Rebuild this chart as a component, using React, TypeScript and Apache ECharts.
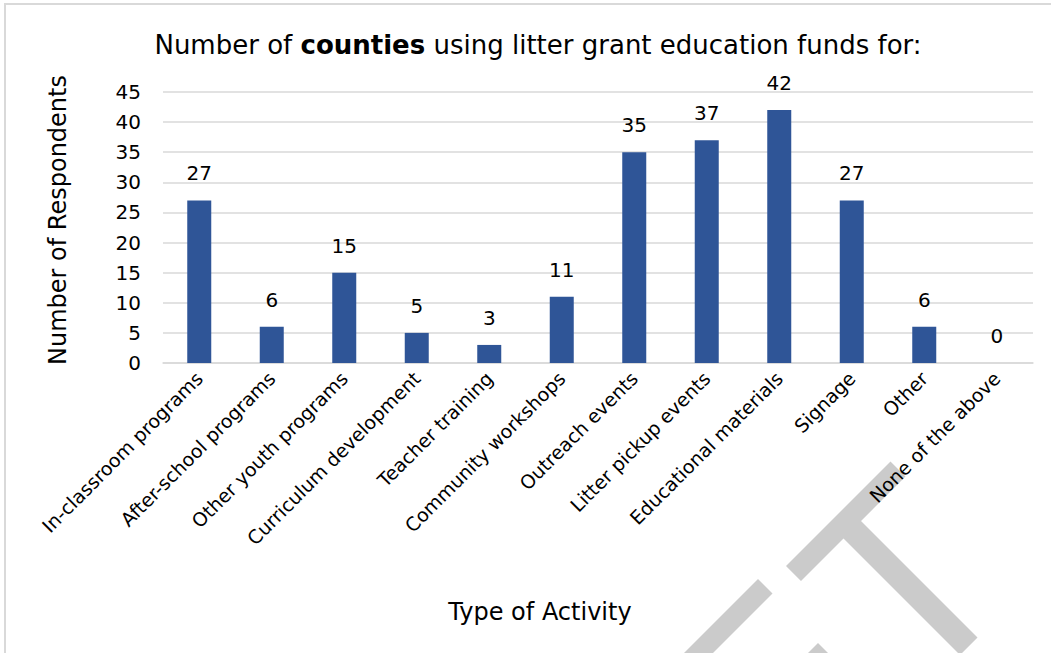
import React, { useEffect, useRef } from "react";
import * as echarts from "echarts";

const categories = [
  "In-classroom programs",
  "After-school programs",
  "Other youth programs",
  "Curriculum development",
  "Teacher training",
  "Community workshops",
  "Outreach events",
  "Litter pickup events",
  "Educational materials",
  "Signage",
  "Other",
  "None of the above",
];
const counts = [27, 6, 15, 5, 3, 11, 35, 37, 42, 27, 6, 0];
const yTicks = { min: 0, max: 45, interval: 5 };
const yAxisTitle = "Number of Respondents";
const xAxisTitle = "Type of Activity";

const FONT = "'DejaVu Sans', sans-serif";

export default function App() {
  const ref = useRef<HTMLDivElement>(null);
  useEffect(() => {
    if (!ref.current) return;
    const chart = echarts.init(ref.current, undefined, { renderer: "svg" });
    const wm = "#cbcbcb";
    chart.setOption({
      animation: false,
      backgroundColor: "#ffffff",
      title: {
        text: "Number of {b|counties} using litter grant education funds for:",
        left: 533,
        top: 27,
        textAlign: "center",
        textStyle: {
          fontFamily: FONT,
          fontSize: 26,
          fontWeight: "normal",
          color: "#000",
          rich: {
            b: { fontFamily: FONT, fontSize: 26, fontWeight: "bold", color: "#000" },
          },
        },
      },
      grid: { left: 163, right: 18, top: 92, bottom: 290, containLabel: false },
      xAxis: {
        type: "category",
        data: categories,
        axisLine: { show: true, lineStyle: { color: "#d9d9d9", width: 1.5 } },
        axisTick: { show: false },
        axisLabel: {
          interval: 0,
          rotate: 45,
          margin: 12,
          fontFamily: FONT,
          fontSize: 19,
          color: "#000",
        },
      },
      yAxis: {
        type: "value",
        min: yTicks.min,
        max: yTicks.max,
        interval: yTicks.interval,
        axisLine: { show: false },
        axisTick: { show: false },
        axisLabel: { margin: 22, fontFamily: FONT, fontSize: 20, color: "#000" },
        splitLine: { show: true, lineStyle: { color: "#d9d9d9", width: 1.5 } },
      },
      series: [
        {
          type: "bar",
          data: counts,
          barWidth: 24,
          itemStyle: { color: "#2f5597" },
          label: {
            show: true,
            position: "top",
            distance: 17,
            fontFamily: FONT,
            fontSize: 20,
            color: "#000",
          },
        },
      ],
      graphic: [
        {
          type: "rect",
          z: -5,
          shape: { x: 5, y: 4, width: 1070, height: 700 },
          style: { fill: "none", stroke: "#d9d9d9", lineWidth: 2 },
        },
        {
          type: "polygon",
          z: -5,
          shape: {
            points: [
              [786, 566],
              [890.5, 461.5],
              [905.5, 476.5],
              [861, 521],
              [977.5, 637.5],
              [960, 655],
              [843.5, 538.5],
              [801, 581],
            ],
          },
          style: { fill: wm },
        },
        {
          type: "polygon",
          z: -5,
          shape: {
            points: [
              [758, 579],
              [772.5, 593.5],
              [633, 733],
              [618.5, 718.5],
            ],
          },
          style: { fill: wm },
        },
        {
          type: "polygon",
          z: -5,
          shape: {
            points: [
              [818, 643],
              [830, 655],
              [806, 655],
            ],
          },
          style: { fill: wm },
        },
        {
          type: "text",
          x: 58,
          y: 220,
          rotation: Math.PI / 2,
          style: {
            text: yAxisTitle,
            fontFamily: FONT,
            fontSize: 24,
            fill: "#000",
            align: "center",
            verticalAlign: "middle",
          },
        },
        {
          type: "text",
          x: 540,
          y: 612,
          style: {
            text: xAxisTitle,
            fontFamily: FONT,
            fontSize: 24,
            fill: "#000",
            align: "center",
            verticalAlign: "middle",
          },
        },
      ],
    });
    return () => chart.dispose();
  }, []);
  return (
    <div
      ref={ref}
      style={{ position: "absolute", left: 0, top: 0, width: 1051, height: 653 }}
    />
  );
}
